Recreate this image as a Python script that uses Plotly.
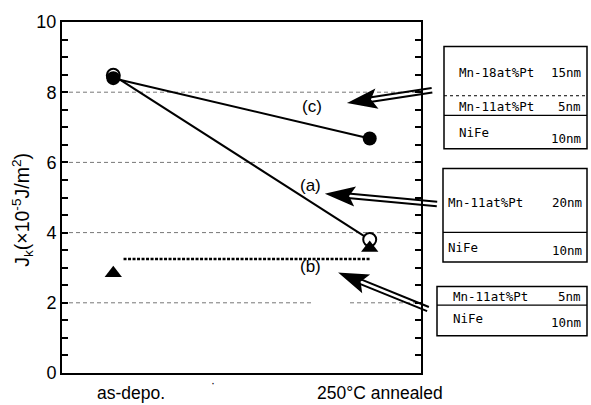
import math
import plotly.graph_objects as go

# ---------------- data ----------------
categories = ["as-depo.", "250°C annealed"]
x_pos = [0, 1]
series_a = [8.48, 3.80]      # (a) open circles
series_c = [8.40, 6.68]      # (c) filled circles
series_b = [2.84, 3.56]      # (b) triangles
b_level_x = [0.04, 1.0]      # (b) dashed reference line
b_level_y = [3.25, 3.25]
y_ticks = [0, 2, 4, 6, 8, 10]
grid_levels = [2, 4, 6, 8]
curve_labels = ["(c)", "(a)", "(b)"]
box1_rows = [("Mn-18at%Pt", "15nm"), ("Mn-11at%Pt", "5nm"), ("NiFe", "10nm")]
box2_rows = [("Mn-11at%Pt", "20nm"), ("NiFe", "10nm")]
box3_rows = [("Mn-11at%Pt", "5nm"), ("NiFe", "10nm")]

# ---------------- geometry helpers (pixel -> paper) ----------------
W, H = 591, 405
L, R, T, B = 62, 170, 16, 32
PW, PH = W - L - R, H - T - B


def px(x):
    return (x - L) / PW


def py(y):
    return (H - B - y) / PH


SANS = "Liberation Sans, Arial, sans-serif"
MONO = "DejaVu Sans Mono, Liberation Mono, monospace"

fig = go.Figure()

fig.add_trace(go.Scatter(
    x=x_pos, y=series_a, mode="lines+markers",
    line=dict(color="black", width=2),
    marker=dict(symbol="circle", size=13, color="white",
                line=dict(color="black", width=2)),
    showlegend=False))
fig.add_trace(go.Scatter(
    x=x_pos, y=series_c, mode="lines+markers",
    line=dict(color="black", width=2),
    marker=dict(symbol="circle", size=14, color="black"),
    showlegend=False))
fig.add_trace(go.Scatter(
    x=b_level_x, y=b_level_y, mode="lines",
    line=dict(color="black", width=2.5, dash="3px,1.5px"),
    showlegend=False))
fig.add_trace(go.Scatter(
    x=x_pos, y=series_b, mode="markers",
    marker=dict(symbol="triangle-up", size=15, color="black"),
    showlegend=False))
# invisible trace to carry the right-hand tick axis
fig.add_trace(go.Scatter(x=x_pos, y=series_c, yaxis="y2", mode="markers",
                         marker=dict(opacity=0), hoverinfo="skip", showlegend=False))

shapes = []
# dashed grid lines
for g in grid_levels:
    if g == 2:
        segs = [(62, 313), (350, 421)]
    else:
        segs = [(62, 421)]
    for a, b in segs:
        shapes.append(dict(type="line", xref="paper", yref="y",
                           x0=px(a), x1=px(b), y0=g, y1=g, layer="below",
                           line=dict(color="#777777", width=1, dash="4px,3px")))


def double_arrow(tail, tip, hl=25, hw=8.5, gap=2.3):
    tx, ty = tail
    hx, hy = tip
    d = math.hypot(hx - tx, hy - ty)
    ux, uy = (hx - tx) / d, (hy - ty) / d
    nx, ny = -uy, ux
    out = []
    ex, ey = hx - 0.8 * hl * ux, hy - 0.8 * hl * uy
    for s in (gap, -gap):
        out.append(dict(type="line", xref="paper", yref="paper",
                        x0=px(tx + s * nx), y0=py(ty + s * ny),
                        x1=px(ex + s * nx), y1=py(ey + s * ny),
                        line=dict(color="black", width=2)))
    p1 = (hx - hl * ux + hw * nx, hy - hl * uy + hw * ny)
    p2 = (hx - 0.8 * hl * ux, hy - 0.8 * hl * uy)
    p3 = (hx - hl * ux - hw * nx, hy - hl * uy - hw * ny)
    path = "M{:.5f},{:.5f}L{:.5f},{:.5f}L{:.5f},{:.5f}L{:.5f},{:.5f}Z".format(
        px(hx), py(hy), px(p1[0]), py(p1[1]), px(p2[0]), py(p2[1]),
        px(p3[0]), py(p3[1]))
    out.append(dict(type="path", xref="paper", yref="paper", path=path,
                    fillcolor="black", fillrule="nonzero", opacity=1,
                    line=dict(color="black", width=2)))
    return out


shapes += double_arrow((432, 85.5), (350, 98))
shapes += double_arrow((437, 201), (328, 191))
shapes += double_arrow((428, 308), (341, 272))

# boxes
def rect(x0, y0, x1, y1):
    return dict(type="rect", xref="paper", yref="paper",
                x0=px(x0), x1=px(x1), y0=py(y0), y1=py(y1),
                line=dict(color="black", width=1.5))


def hline(x0, x1, y, dash="solid", width=1.2):
    return dict(type="line", xref="paper", yref="paper",
                x0=px(x0), x1=px(x1), y0=py(y), y1=py(y),
                line=dict(color="black", width=width, dash=dash))


shapes += [rect(444, 41, 587, 145), hline(444, 587, 91, "dot", 1), hline(444, 587, 111)]
shapes += [rect(443, 165, 587, 260), hline(443, 587, 230)]
shapes += [rect(437, 285, 587, 335), hline(437, 587, 304)]

annotations = []


def box_text(rows, xl, xr, ys_l, ys_r):
    for (lt, rt), yl, yr in zip(rows, ys_l, ys_r):
        annotations.append(dict(xref="paper", yref="paper", x=px(xl), y=py(yl),
                                text=lt, showarrow=False, xanchor="left",
                                yanchor="middle", font=dict(family=MONO, size=12.5, color="black")))
        annotations.append(dict(xref="paper", yref="paper", x=px(xr), y=py(yr),
                                text=rt, showarrow=False, xanchor="right",
                                yanchor="middle", font=dict(family=MONO, size=12.5, color="black")))


box_text(box1_rows, 457, 583, [67, 102, 128], [67, 102, 134])
box_text(box2_rows, 446, 584, [200, 245], [200, 248])
box_text(box3_rows, 451, 583, [295, 318], [295, 322])

# curve labels
for lab, (lx, ly) in zip(curve_labels, [(312, 102), (310, 182), (310, 265)]):
    annotations.append(dict(xref="paper", yref="paper", x=px(lx), y=py(ly),
                            text=lab, showarrow=False, xanchor="center",
                            yanchor="middle", font=dict(family=SANS, size=17, color="black")))

# x category labels
for cat, xp, sh in zip(categories, x_pos, [18, 10]):
    annotations.append(dict(xref="x", yref="paper", x=xp, y=0, yshift=-20,
                            xshift=sh, text=cat, showarrow=False,
                            xanchor="center", yanchor="middle",
                            font=dict(family=SANS, size=17.5, color="black")))
annotations.append(dict(xref="paper", yref="paper", x=px(213), y=py(392), text="·",
                        showarrow=False, font=dict(family=SANS, size=12, color="black")))

# y title
annotations.append(dict(xref="paper", yref="paper", x=px(23), y=py(207),
                        text="J<sub>k</sub>(×10<sup>-5</sup>J/m<sup>2</sup>)",
                        textangle=-90, showarrow=False, xanchor="center", yanchor="middle",
                        font=dict(family=SANS, size=19.5, color="black")))

tick_common = dict(range=[0, 10], tickvals=y_ticks, showgrid=False, zeroline=False,
                   ticks="inside", ticklen=6, tickwidth=1.5, tickcolor="black",
                   minor=dict(dtick=0.5, ticks="inside", ticklen=6, tickwidth=1.5,
                              tickcolor="black"))

fig.update_layout(
    width=W, height=H, margin=dict(l=L, r=R, t=T, b=B),
    paper_bgcolor="white", plot_bgcolor="white",
    shapes=shapes, annotations=annotations,
    xaxis=dict(range=[-0.2, 1.2], showgrid=False, zeroline=False,
               showline=True, linecolor="black", linewidth=2, mirror=True,
               showticklabels=False, ticks=""),
    yaxis=dict(showline=True, linecolor="black", linewidth=2, mirror=True,
               tickfont=dict(family=SANS, size=18, color="black"), **tick_common),
    yaxis2=dict(overlaying="y", side="right", showline=False,
                showticklabels=False, **tick_common),
)

fig.write_html("out.html")
